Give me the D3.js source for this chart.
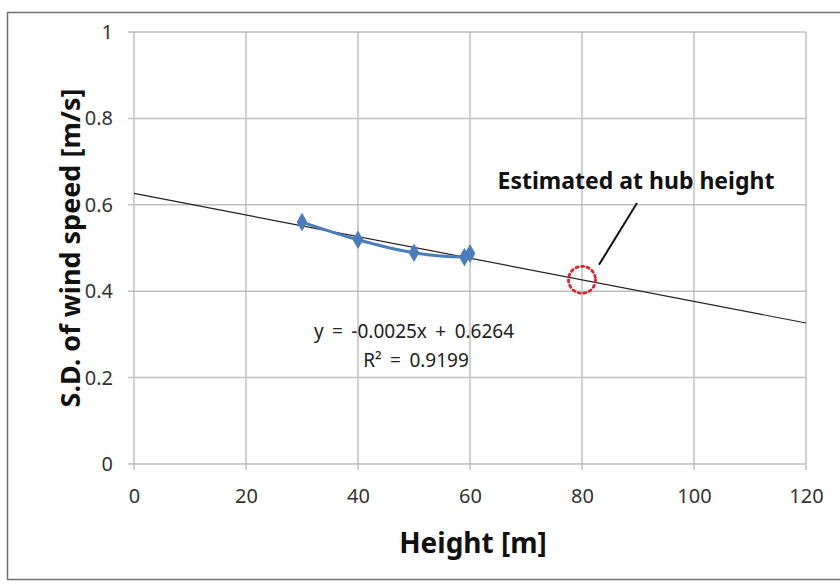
<!DOCTYPE html>
<html>
<head>
<meta charset="utf-8">
<script src="https://cdn.jsdelivr.net/npm/d3@7"></script>
<style>
  html, body { margin: 0; padding: 0; background: #fff; }
  svg { display: block; }
  text { font-family: "Noto Sans", "Open Sans", sans-serif; }
</style>
</head>
<body>
<svg id="chart" width="840" height="585"></svg>
<script>
// Measured standard deviation of wind speed by height
const heights = [30, 40, 50, 59, 60];
const sdValues = [0.560, 0.519, 0.489, 0.479, 0.487];

// Linear fit coefficients (from the equation label)
const slope = -0.0025;
const intercept = 0.6264;
const rSquared = 0.9199;
const hubHeight = 80;

const xTicks = [0, 20, 40, 60, 80, 100, 120];
const yTicks = [0, 0.2, 0.4, 0.6, 0.8, 1];

const svg = d3.select("#chart");

// outer frame
svg.append("rect")
  .attr("x", 7.5).attr("y", 12.5)
  .attr("width", 840).attr("height", 567)
  .attr("fill", "#fff").attr("stroke", "#6f6f6f").attr("stroke-width", 1.5);

const x = d3.scaleLinear().domain([0, 120]).range([134, 806]);
const y = d3.scaleLinear().domain([0, 1]).range([464, 32]);

const gridColor = "#c0c0c0";

// gridlines
svg.append("g").selectAll("line.v").data(xTicks).join("line")
  .attr("x1", d => x(d)).attr("x2", d => x(d))
  .attr("y1", y(1)).attr("y2", y(0) + 6)
  .attr("stroke", gridColor).attr("stroke-width", 1.5);
svg.append("g").selectAll("line.h").data(yTicks).join("line")
  .attr("x1", x(0) - 6).attr("x2", x(120))
  .attr("y1", d => y(d)).attr("y2", d => y(d))
  .attr("stroke", gridColor).attr("stroke-width", 1.5);

// axes labels
const xAxis = d3.axisBottom(x).tickValues(xTicks).tickSize(0).tickPadding(25).tickFormat(d3.format("d"));
const gx = svg.append("g").attr("transform", `translate(0,${y(0)})`).call(xAxis);
gx.select(".domain").remove();
gx.selectAll("text").attr("font-size", 20).attr("fill", "#333")
  .style("font-family", "'Noto Sans', sans-serif");

const yAxis = d3.axisLeft(y).tickValues(yTicks).tickSize(0).tickPadding(21).tickFormat(d => d === 0 || d === 1 ? d3.format("d")(d) : d3.format(".1f")(d));
const gy = svg.append("g").attr("transform", `translate(${x(0)},0)`).call(yAxis);
gy.select(".domain").remove();
gy.selectAll("text").attr("font-size", 20).attr("fill", "#333")
  .style("font-family", "'Noto Sans', sans-serif");

// axis titles
svg.append("text")
  .attr("x", 473).attr("y", 553)
  .attr("text-anchor", "middle")
  .attr("font-size", 28).attr("font-weight", "bold").attr("fill", "#111")
  .text("Height [m]");

svg.append("text")
  .attr("transform", `translate(80,248) rotate(-90)`)
  .attr("text-anchor", "middle")
  .attr("font-size", 27).attr("font-weight", "bold").attr("fill", "#111")
  .text("S.D. of wind speed [m/s]");

// trend line
svg.append("line")
  .attr("x1", x(0)).attr("y1", y(intercept))
  .attr("x2", x(120)).attr("y2", y(intercept + slope * 120))
  .attr("stroke", "#222").attr("stroke-width", 1.2);

// measured series
const seriesColor = "#4a7ebb";
const pts = heights.map((h, i) => [h, sdValues[i]]);
svg.append("path")
  .datum(pts)
  .attr("fill", "none").attr("stroke", seriesColor).attr("stroke-width", 3)
  .attr("d", d3.line().x(d => x(d[0])).y(d => y(d[1])).curve(d3.curveMonotoneX));

svg.append("g").selectAll("path.m").data(pts).join("path")
  .attr("transform", d => `translate(${x(d[0])},${y(d[1])})`)
  .attr("d", d3.symbol(d3.symbolDiamond, 100)())
  .attr("fill", seriesColor);

// equation label
svg.append("text")
  .attr("x", 414).attr("y", 338)
  .attr("text-anchor", "middle")
  .attr("font-size", 19).attr("word-spacing", 3.5).attr("fill", "#222")
  .text(`y = ${slope}x + ${intercept}`);
svg.append("text")
  .attr("x", 416).attr("y", 367)
  .attr("text-anchor", "middle")
  .attr("font-size", 19).attr("word-spacing", 3.5).attr("fill", "#222")
  .text(`R² = ${rSquared}`);

// hub-height estimate marker
const hx = x(hubHeight), hy = y(intercept + slope * hubHeight);
svg.append("circle")
  .attr("cx", hx).attr("cy", hy).attr("r", 13.5)
  .attr("fill", "none").attr("stroke", "#e0202a").attr("stroke-width", 2.8)
  .attr("stroke-dasharray", "2.2 3.5").attr("stroke-linecap", "round");

svg.append("line")
  .attr("x1", hx + 17).attr("y1", hy - 15)
  .attr("x2", 637).attr("y2", 203)
  .attr("stroke", "#111").attr("stroke-width", 2);

svg.append("text")
  .attr("x", 636).attr("y", 189)
  .attr("text-anchor", "middle")
  .attr("font-size", 23).attr("font-weight", "bold").attr("fill", "#111")
  .text("Estimated at hub height");
</script>
</body>
</html>
